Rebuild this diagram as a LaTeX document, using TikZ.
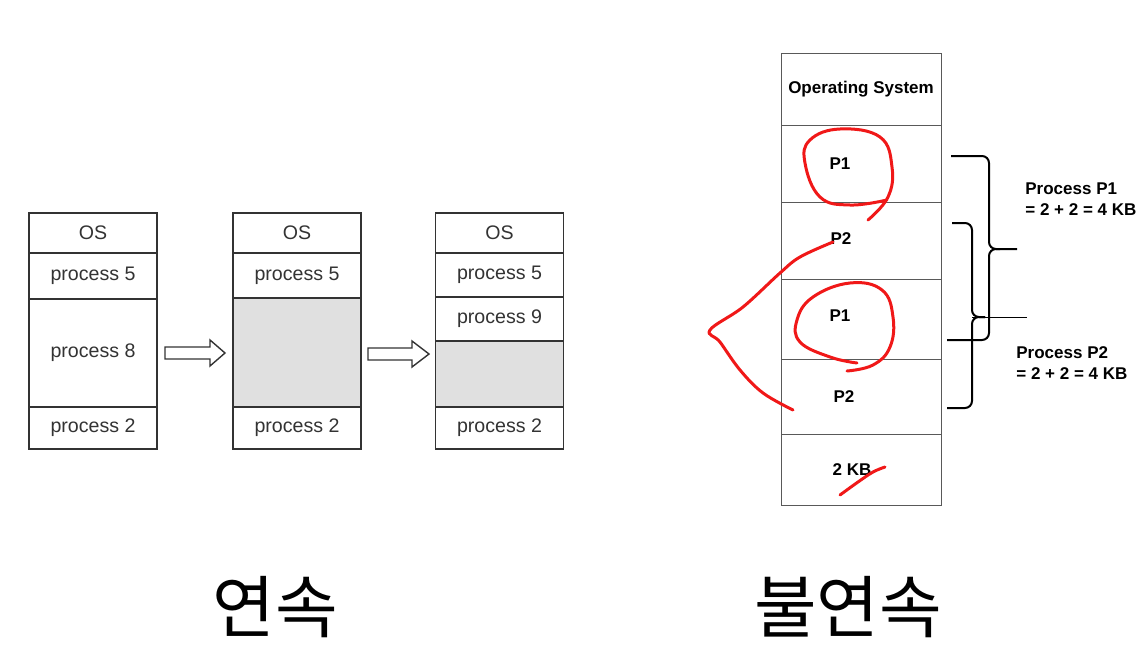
\documentclass[tikz,border=0pt]{standalone}
\usepackage{fontspec}
\setmainfont{Liberation Sans}
\newfontfamily\cjk{Noto Sans CJK KR}
\usetikzlibrary{positioning}
\definecolor{boxline}{HTML}{333333}
\definecolor{freegray}{HTML}{E0E0E0}
\definecolor{pen}{HTML}{F01818}

\begin{document}
\begin{tikzpicture}[x=0.5pt, y=-0.5pt,
        cell/.style={draw=boxline, line width=0.7pt, rectangle, minimum width=64pt, inner sep=0pt, outer sep=0pt, text=boxline, font=\fontsize{9.8}{11}\selectfont},
        hole/.style={cell, fill=freegray},
        seg/.style={draw=black!65, line width=0.5pt, rectangle, minimum width=80pt, inner sep=0pt, outer sep=0pt},
        lbl/.style={font=\fontsize{8.5}{10.5}\selectfont\bfseries, inner sep=0pt},
        fatarrow/.style={draw=boxline, line width=0.7pt, fill=white},
        brace/.style={line width=1pt, rounded corners=3.5pt},
        pen/.style={draw=pen, line width=1.5pt, line cap=round, line join=round}]
        \useasboundingbox (0,0) rectangle (1147,653);

        % Contiguous memory: first stack
        \node[cell, minimum height=20pt] (a1) at (93,233) {OS};
        \node[cell, minimum height=23pt, below=0pt of a1] (a2) {process 5};
        \node[cell, minimum height=54pt, below=0pt of a2] (a3) {process 8};
        \node[cell, minimum height=21pt, below=0pt of a3] (a4) {process 2};

        % second stack
        \node[cell, minimum height=20pt] (b1) at (297,233) {OS};
        \node[cell, minimum height=22.5pt, below=0pt of b1] (b2) {process 5};
        \node[hole, minimum height=54.5pt, below=0pt of b2] (b3) {};
        \node[cell, minimum height=21pt, below=0pt of b3] (b4) {process 2};

        % third stack
        \node[cell, minimum height=20pt] (c1) at (499.5,233) {OS};
        \node[cell, minimum height=22pt, below=0pt of c1] (c2) {process 5};
        \node[cell, minimum height=22pt, below=0pt of c2] (c3) {process 9};
        \node[hole, minimum height=33pt, below=0pt of c3] (c4) {};
        \node[cell, minimum height=21pt, below=0pt of c4] (c5) {process 2};

        % Block arrows between the stacks
        \draw[fatarrow] (165,347) -- (210,347) -- (210,340) -- (225,353) -- (210,366) -- (210,359) -- (165,359) -- cycle;
        \draw[fatarrow] (368,348) -- (412,348) -- (412,341) -- (429,354) -- (412,367) -- (412,360) -- (368,360) -- cycle;

        % Non-contiguous memory column
        \node[seg, minimum height=36pt] (r1) at (861,89) {};
        \node[seg, minimum height=38.5pt, below=0pt of r1] (r2) {};
        \node[seg, minimum height=38.5pt, below=0pt of r2] (r3) {};
        \node[seg, minimum height=40pt, below=0pt of r3] (r4) {};
        \node[seg, minimum height=37.5pt, below=0pt of r4] (r5) {};
        \node[seg, minimum height=35.5pt, below=0pt of r5] (r6) {};

        \node[lbl] (os) at (r1.center) {Operating System};
        \node[lbl] (p1a) at ([xshift=-10.5pt]r2.center) {P1};
        \node[lbl] (p2a) at ([xshift=-10pt,yshift=1pt]r3.center) {P2};
        \node[lbl] (p1b) at ([xshift=-10.5pt,yshift=1.5pt]r4.center) {P1};
        \node[lbl] (p2b) at ([xshift=-8.5pt]r5.center) {P2};
        \node[lbl] (kb) at ([xshift=-4.5pt]r6.center) {2 KB};

        % Braces and their sums
        \draw[brace] (951,156) -| (989,249) -- (1017,249);
        \draw[brace] (947,340) -| (989,249) -- (1000,249);
        \draw[brace] (952,223) -| (972,317) -- (985,317);
        \draw[brace] (947,408) -| (972,317) -- (985,317);
        \draw[line width=0.5pt] (972,317) -- (1027,317);

        \node[lbl, anchor=west, align=left] (sum1) at (1025,199.5) {Process P1\\= 2 + 2 = 4 KB};
        \node[lbl, anchor=west, align=left] (sum2) at (1016,363.5) {Process P2\\= 2 + 2 = 4 KB};

        % Red pen marks
        \draw[pen] plot[smooth, tension=0.7] coordinates {(887,200) (850,205) (820,197) (805,163) (810,140) (840,129) (880,137) (892,167) (888,197) (868,220)};
        \draw[pen] plot[smooth, tension=0.7] coordinates {(857,363) (830,357) (800,342) (797,320) (813,297) (850,283) (882,290) (893,317) (890,347) (873,365) (847,371)};
        \draw[pen] plot[smooth, tension=0.6] coordinates {(833,242) (800,257) (780,273) (743,307) (710,330) (720,342) (740,370) (763,393) (793,410)};
        \draw[pen] plot[smooth, tension=0.6] coordinates {(840,495) (858,482) (873,472) (885,467)};

        % Captions
        \node[font=\cjk\fontsize{34}{40}\selectfont] (cont) at (275,607) {연속};
        \node[font=\cjk\fontsize{34}{40}\selectfont] (noncont) at (848,607) {불연속};
    \end{tikzpicture}
\end{document}
